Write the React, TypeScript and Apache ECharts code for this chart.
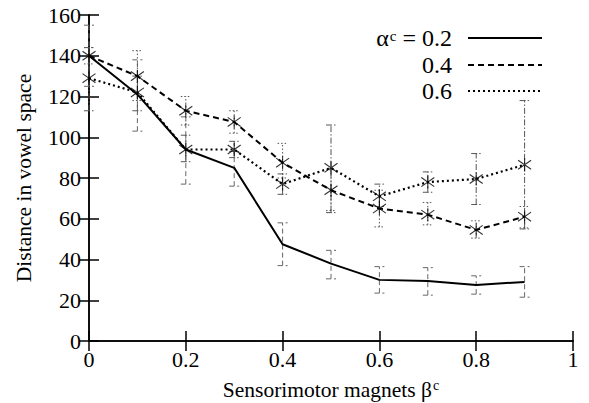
import React, { useEffect, useRef } from "react";
import * as echarts from "echarts";

const xs = [0, 0.1, 0.2, 0.3, 0.4, 0.5, 0.6, 0.7, 0.8, 0.9];
const s02 = [140, 121, 94, 85, 47.5, 38, 30, 29.5, 27.5, 29];
const s04 = [140, 130, 113, 107.5, 87.5, 74, 65, 62, 54.5, 61];
const s06 = [129, 122, 94, 94, 77, 85, 71, 78, 79.5, 86.5];
const e02Low = [125, 103, 77, 76, 37, 30.5, 23.5, 22.5, 23, 21.5];
const e02High = [155, 138, 110, 93, 58, 44.5, 36.5, 36, 32, 36.5];
const e04Low = [136, 118, 106, 102, 80, 64, 56, 57, 50.5, 55.5];
const e04High = [144, 142.5, 120, 113, 97, 84, 74, 68, 59, 66];
const e06Low = [113, 113, 88, 90, 72, 63, 66, 73, 67, 55];
const e06High = [144, 130, 101, 98, 82, 106, 77, 83, 92, 118];
const seriesNames = ["0.2", "0.4", "0.6"];

const FONT = "'Liberation Serif', 'DejaVu Serif', serif";
const STAR = "path://M0,-10 L0,10 M-10,-7 L10,7 M-10,7 L10,-7";

function errorSeries(lo: number[], hi: number[], lineDash: number[], stroke: string) {
  return {
    type: "custom",
    z: 1,
    silent: true,
    data: xs.map((x, i) => [x, lo[i], hi[i]]),
    encode: { x: 0, y: [1, 2] },
    renderItem: (params: any, api: any) => {
      const x = api.value(0);
      const p1 = api.coord([x, api.value(1)]);
      const p2 = api.coord([x, api.value(2)]);
      const w = 5;
      const style = { stroke, lineWidth: 1, lineDash, fill: "none" };
      return {
        type: "group",
        children: [
          { type: "line", shape: { x1: p1[0], y1: p1[1], x2: p2[0], y2: p2[1] }, style },
          { type: "line", shape: { x1: p1[0] - w, y1: p1[1], x2: p1[0] + w, y2: p1[1] }, style },
          { type: "line", shape: { x1: p2[0] - w, y1: p2[1], x2: p2[0] + w, y2: p2[1] }, style },
        ],
      };
    },
  };
}

function lineSeries(name: string, vals: number[], type: any, width: number) {
  return {
    name,
    type: "line",
    z: 3,
    data: xs.map((x, i) => [x, vals[i]]),
    symbol: "none",
    itemStyle: { color: "#000" },
    lineStyle: { color: "#000", width, type },
  };
}

function starSeries(vals: number[]) {
  return {
    type: "scatter",
    z: 4,
    data: xs.map((x, i) => [x, vals[i]]),
    symbol: STAR,
    symbolSize: 13,
    itemStyle: { color: "none", borderColor: "#000", borderWidth: 1.1 },
  };
}

export default function App() {
  const ref = useRef<HTMLDivElement>(null);
  useEffect(() => {
    if (!ref.current) return;
    document.body.style.margin = "0";
    const chart = echarts.init(ref.current, null, { renderer: "svg" });
    const axisCommon = {
      type: "value",
      axisLine: { show: true, lineStyle: { color: "#000", width: 1.5 } },
      axisTick: { show: true, inside: true, length: 10, lineStyle: { color: "#000", width: 1.5 } },
      splitLine: { show: false },
    };
    const labelStyle = { color: "#000", fontSize: 22, fontFamily: FONT };
    const titleRich = {
      n: { fontSize: 21.5, fontFamily: FONT, color: "#000" },
      s: { fontSize: 14, fontFamily: FONT, color: "#000", verticalAlign: "top", padding: [0, 0, 9, 1] },
    };
    const legendRich = {
      n: { fontSize: 24, fontFamily: FONT, color: "#000", lineHeight: 20 },
      s: { fontSize: 15, fontFamily: FONT, color: "#000", lineHeight: 20, verticalAlign: "top", padding: [0, 0, 8, 1] },
      p: { fontSize: 24, fontFamily: FONT, color: "#000", lineHeight: 20, padding: [0, 11, 0, 0] },
    };
    chart.setOption({
      animation: false,
      backgroundColor: "#fff",
      grid: { left: 89, right: 16, top: 15, bottom: 62, containLabel: false, outerBoundsMode: "none" },
      legend: {
        data: seriesNames,
        orient: "vertical",
        align: "right",
        right: 46,
        top: 26,
        padding: 0,
        itemWidth: 74,
        itemHeight: 14,
        itemGap: 2,
        itemStyle: { opacity: 0 },
        formatter: (name: string) =>
          name === "0.2" ? "{n|α}{s|c}{p| = 0.2}" : "{p|" + name + "}",
        textStyle: { color: "#000", fontSize: 24, fontFamily: FONT, lineHeight: 20, rich: legendRich },
      },
      xAxis: [
        {
          ...axisCommon,
          min: 0,
          max: 1,
          interval: 0.2,
          position: "bottom",
          axisLabel: { ...labelStyle, margin: 7 },
          name: "{n|Sensorimotor magnets β}{s|c}",
          nameLocation: "middle",
          nameGap: 37,
          nameTextStyle: { ...labelStyle, fontSize: 21.5, rich: titleRich },
        },
        {
          ...axisCommon,
          min: 0,
          max: 1,
          interval: 0.2,
          position: "top",
          axisLabel: { show: false },
        },
      ],
      yAxis: [
        {
          ...axisCommon,
          min: 0,
          max: 160,
          interval: 20,
          position: "left",
          axisLabel: { ...labelStyle, margin: 8 },
          name: "Distance in vowel space",
          nameLocation: "middle",
          nameGap: 54,
          nameTextStyle: { ...labelStyle, fontSize: 21.5 },
        },
        {
          ...axisCommon,
          min: 0,
          max: 160,
          interval: 20,
          position: "right",
          axisLabel: { show: false },
        },
      ],
      series: [
        errorSeries(e02Low, e02High, [5, 3], "#666"),
        errorSeries(e04Low, e04High, [1.5, 2], "#555"),
        errorSeries(e06Low, e06High, [6, 2, 1.5, 2], "#555"),
        lineSeries("0.2", s02, "solid", 2),
        lineSeries("0.4", s04, [6, 4], 2),
        lineSeries("0.6", s06, [2, 3], 2.2),
        starSeries(s04),
        starSeries(s06),
      ],
    });
    return () => chart.dispose();
  }, []);
  return <div ref={ref} style={{ width: 589, height: 403 }} />;
}
